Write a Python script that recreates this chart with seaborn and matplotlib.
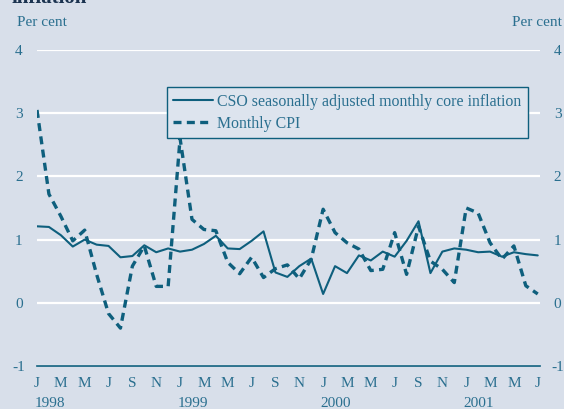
import numpy as np
import pandas as pd
import matplotlib.pyplot as plt
import seaborn as sns

# Monthly data, Jan 1998 - Jul 2001
core = [1.21, 1.20, 1.07, 0.89, 1.00, 0.92, 0.90, 0.72, 0.74, 0.91,
        0.80, 0.86, 0.81, 0.84, 0.93, 1.06, 0.86, 0.85, 0.98, 1.13,
        0.48, 0.41, 0.58, 0.70, 0.14, 0.58, 0.47, 0.75, 0.67, 0.81,
        0.73, 0.98, 1.29, 0.47, 0.81, 0.86, 0.84, 0.80, 0.81, 0.73,
        0.80, 0.77, 0.75]
cpi = [3.05, 1.72, 1.37, 0.98, 1.15, 0.45, -0.17, -0.40, 0.58, 0.90,
       0.26, 0.26, 2.60, 1.32, 1.16, 1.14, 0.64, 0.46, 0.72, 0.40,
       0.54, 0.60, 0.38, 0.69, 1.48, 1.11, 0.95, 0.85, 0.51, 0.53,
       1.11, 0.45, 1.21, 0.66, 0.53, 0.32, 1.50, 1.42, 0.95, 0.69,
       0.90, 0.27, 0.14]
month_letters = ["J", "F", "M", "A", "M", "J", "J", "A", "S", "O", "N", "D"]
years = ["1998", "1999", "2000", "2001"]

labels = ["CSO seasonally adjusted monthly core inflation", "Monthly CPI"]

bg = "#d8dfea"
teal = "#0e5f7d"
txt = "#2a6f8f"

sns.set_theme(style="white")
plt.rcParams["font.family"] = ["Liberation Serif", "DejaVu Serif"]

df = pd.DataFrame({"month": np.arange(len(core)), "core": core, "cpi": cpi})

fig = plt.figure(figsize=(5.64, 4.09), dpi=100, facecolor=bg)
ax = fig.add_axes([0.0656, 0.105, 0.891, 0.773])
ax.set_facecolor(bg)

sns.lineplot(data=df, x="month", y="core", ax=ax, color=teal, lw=1.5,
             label=labels[0])
sns.lineplot(data=df, x="month", y="cpi", ax=ax, color=teal, lw=2.4,
             linestyle=(0, (2.4, 1.6)), label=labels[1])

ax.set_xlim(0, 42.15)
ax.set_ylim(-1, 4)
ax.set_yticks([-1, 0, 1, 2, 3, 4])
ax.set_yticklabels(["-1", "0", "1", "2", "3", "4"])
ax.yaxis.grid(True, color="white", lw=1.6)
ax.set_axisbelow(True)
ax.tick_params(axis="y", length=0, labelsize=11, labelcolor=txt, pad=13,
               labelright=True)
for lab in ax.get_yticklabels():
    lab.set_horizontalalignment("center")

ax.set_xticks(np.arange(len(core)))
ax.set_xticklabels([month_letters[i % 12] if i % 2 == 0 else "" for i in range(len(core))])
ax.tick_params(axis="x", direction="in", length=3, width=1, color=teal,
               labelsize=11, labelcolor=txt, pad=8)
ax.set_xlabel("")
ax.set_ylabel("")

for s in ["left", "right", "top"]:
    ax.spines[s].set_visible(False)
ax.spines["bottom"].set_color(teal)
ax.spines["bottom"].set_linewidth(1.2)

for k, y in enumerate(years):
    ax.text(k * 12 - 0.2, -0.118, y, transform=ax.get_xaxis_transform(),
            ha="left", va="center", fontsize=11, color=txt)

fig.text(0.03, 0.944, "Per cent", fontsize=11, color=txt, va="center")
fig.text(0.908, 0.944, "Per cent", fontsize=11, color=txt, va="center")
fig.text(0.02, 0.993, "inflation", fontsize=15, fontweight="bold",
         color="#1b3350", va="baseline")

leg = ax.legend(loc="upper left", bbox_to_anchor=(0.258, 0.882),
                borderaxespad=0, frameon=True, fancybox=False, fontsize=11.4,
                handlelength=2.5, handletextpad=0.3, labelspacing=0.4,
                borderpad=0.4)
leg.get_frame().set_edgecolor(teal)
leg.get_frame().set_facecolor("#dde4ee")
leg.get_frame().set_linewidth(1.0)
leg.get_frame().set_alpha(1)
for t in leg.get_texts():
    t.set_color(txt)

fig.savefig("out.png", dpi=100, facecolor=bg)
